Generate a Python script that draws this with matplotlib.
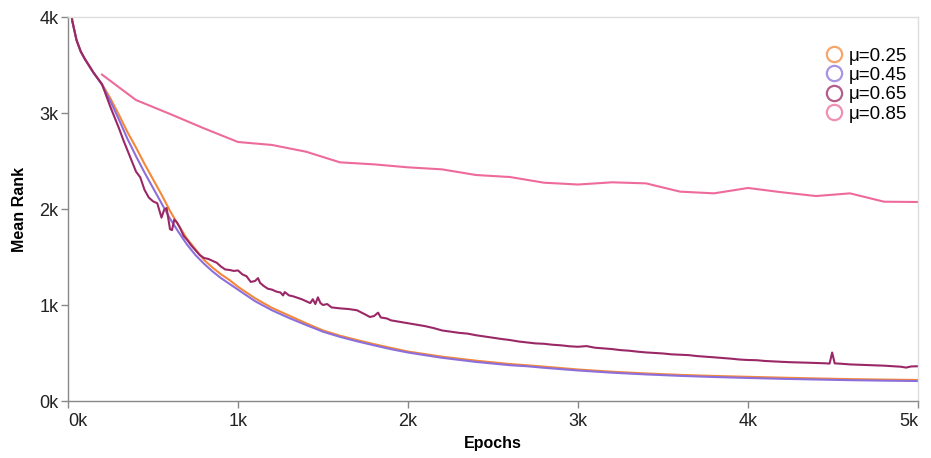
import matplotlib
matplotlib.use('Agg')
import matplotlib.pyplot as plt
from matplotlib.lines import Line2D

plt.rcParams['font.family'] = ['Liberation Sans', 'DejaVu Sans']

# ---- data ----
labels = ['μ=0.25', 'μ=0.45', 'μ=0.65', 'μ=0.85']
colors = ['#f4883a', '#8c6fdb', '#9b2866', '#ee6a9b']

epochs_025 = [0, 25, 50, 75, 100, 150, 200, 250, 300, 350, 400, 450, 500, 550, 600, 650, 700,
              750, 800, 850, 900, 950, 1000, 1100, 1200, 1300, 1400, 1500, 1600, 1700, 1800,
              1900, 2000, 2200, 2400, 2600, 2700, 2800, 3000, 3200, 3400, 3600, 3800, 4000,
              4200, 4400, 4600, 4800, 5000]
rank_025 = [4350, 3960, 3760, 3640, 3560, 3420, 3300, 3150, 2980, 2800, 2640, 2470, 2310, 2150,
            1980, 1830, 1690, 1580, 1470, 1390, 1320, 1260, 1190, 1070, 970, 890, 810, 735,
            680, 635, 592, 553, 515, 462, 420, 385, 372, 358, 328, 305, 287, 272, 261, 252,
            243, 235, 228, 223, 219]

epochs_045 = [0, 25, 50, 75, 100, 150, 200, 250, 300, 350, 400, 450, 500, 550, 600, 650, 700,
              750, 800, 850, 900, 950, 1000, 1100, 1200, 1300, 1400, 1500, 1600, 1700, 1800,
              1900, 2000, 2200, 2400, 2600, 2700, 2800, 3000, 3200, 3400, 3600, 3800, 4000,
              4200, 4400, 4600, 4800, 5000]
rank_045 = [4350, 3960, 3760, 3640, 3560, 3420, 3295, 3120, 2930, 2730, 2550, 2380, 2220, 2060,
            1900, 1760, 1630, 1520, 1430, 1350, 1280, 1220, 1160, 1040, 945, 865, 792, 722,
            668, 622, 580, 540, 505, 450, 407, 373, 362, 346, 318, 295, 277, 262, 250, 240,
            231, 224, 217, 212, 208]

epochs_065 = [0, 25, 50, 75, 100, 150, 200, 225, 250, 275, 300, 325, 350, 375, 400, 425, 450,
              475, 500, 525, 550, 565, 580, 600, 612, 625, 641, 660, 680, 700, 725, 750, 775,
              800, 825, 850, 875, 900, 925, 950, 975, 1000, 1025, 1050, 1075, 1100, 1118, 1130,
              1150, 1175, 1200, 1225, 1250, 1265, 1275, 1300, 1325, 1350, 1375, 1400, 1425,
              1440, 1455, 1470, 1485, 1500, 1525, 1550, 1600, 1650, 1700, 1750, 1776, 1800,
              1824, 1840, 1875, 1900, 1950, 2000, 2050, 2100, 2150, 2200, 2250, 2300, 2350,
              2400, 2450, 2500, 2550, 2600, 2650, 2700, 2750, 2800, 2850, 2900, 2950, 3000,
              3050, 3100, 3150, 3200, 3250, 3300, 3350, 3400, 3450, 3500, 3550, 3600, 3650,
              3700, 3750, 3800, 3850, 3900, 3950, 4000, 4050, 4100, 4150, 4200, 4250, 4300,
              4350, 4400, 4450, 4480, 4495, 4510, 4550, 4600, 4650, 4700, 4750, 4800, 4850,
              4900, 4930, 4960, 5000]
rank_065 = [4350, 3960, 3760, 3640, 3560, 3420, 3300, 3180, 3060, 2950, 2840, 2720, 2610, 2500,
            2390, 2330, 2200, 2120, 2080, 2060, 1910, 1990, 2010, 1790, 1780, 1890, 1860, 1800,
            1720, 1680, 1620, 1570, 1520, 1490, 1480, 1460, 1440, 1400, 1370, 1365, 1355, 1360,
            1320, 1300, 1240, 1250, 1280, 1230, 1200, 1170, 1160, 1140, 1130, 1100, 1135, 1100,
            1090, 1075, 1060, 1040, 1020, 1060, 1010, 1080, 1020, 1000, 1010, 975, 965, 958,
            945, 900, 875, 885, 920, 870, 860, 840, 825, 810, 795, 780, 760, 735, 722, 710,
            702, 685, 672, 660, 646, 635, 620, 610, 600, 596, 586, 580, 570, 565, 572, 555,
            548, 541, 530, 524, 514, 506, 500, 495, 486, 482, 478, 468, 462, 455, 448, 441,
            432, 427, 425, 417, 412, 408, 404, 402, 399, 396, 393, 390, 505, 392, 388, 381,
            378, 375, 371, 368, 362, 357, 348, 360, 362]

epochs_085 = [200, 400, 600, 800, 1000, 1200, 1400, 1600, 1800, 2000, 2200, 2400, 2600, 2800,
              3000, 3200, 3400, 3600, 3800, 4000, 4200, 4400, 4600, 4800, 5000]
rank_085 = [3400, 3135, 2990, 2840, 2698, 2667, 2597, 2486, 2465, 2434, 2413, 2354, 2333, 2274,
            2255, 2278, 2267, 2181, 2163, 2219, 2174, 2135, 2163, 2076, 2073]

x_ticks = [0, 1000, 2000, 3000, 4000, 5000]
y_ticks = [0, 1000, 2000, 3000, 4000]

series = [(epochs_025, rank_025), (epochs_045, rank_045),
          (epochs_065, rank_065), (epochs_085, rank_085)]

fig = plt.figure(figsize=(9.31, 4.58), dpi=100)
ax = fig.add_axes([68 / 931, 57 / 458, 850 / 931, 384 / 458])

for (ep, rk), col in zip(series, colors):
    ax.plot(ep, rk, color=col, linewidth=1.5, solid_joinstyle='round', clip_on=True)

ax.set_xlim(0, 5000)
ax.set_ylim(0, 4000)

# axis styling (vega-like)
for side in ['left', 'bottom']:
    ax.spines[side].set_color('#888888')
    ax.spines[side].set_linewidth(1.0)
for side in ['top', 'right']:
    ax.spines[side].set_color('#dddddd')
    ax.spines[side].set_linewidth(1.0)

ax.set_xticks(x_ticks)
ax.set_yticks(y_ticks)
ax.set_xticklabels([f'{int(t / 1000)}k' for t in x_ticks])
ax.set_yticklabels([f'{int(t / 1000)}k' for t in y_ticks])
ax.tick_params(axis='both', colors='#888888', length=5, width=1.0, labelsize=13,
               labelcolor='#222222')
ax.tick_params(axis='x', pad=4)
ax.tick_params(axis='y', pad=2)
xl = ax.get_xticklabels()
xl[0].set_horizontalalignment('left')
xl[-1].set_horizontalalignment('right')

ax.set_xlabel('Epochs', fontsize=11.5, fontweight='bold', labelpad=4)
ax.set_ylabel('Mean Rank', fontsize=11.5, fontweight='bold', labelpad=9)

handles = [Line2D([], [], linestyle='none', marker='o', markersize=11,
                  markerfacecolor='none', markeredgecolor=c, markeredgewidth=1.6, alpha=0.75)
           for c in colors]
ax.legend(handles, labels, loc='upper right', bbox_to_anchor=(1.0, 0.95), frameon=False,
          fontsize=13.5, handletextpad=0.25, labelspacing=0.12, borderaxespad=0.2,
          handlelength=1.0)

fig.savefig('out.png', dpi=100)
